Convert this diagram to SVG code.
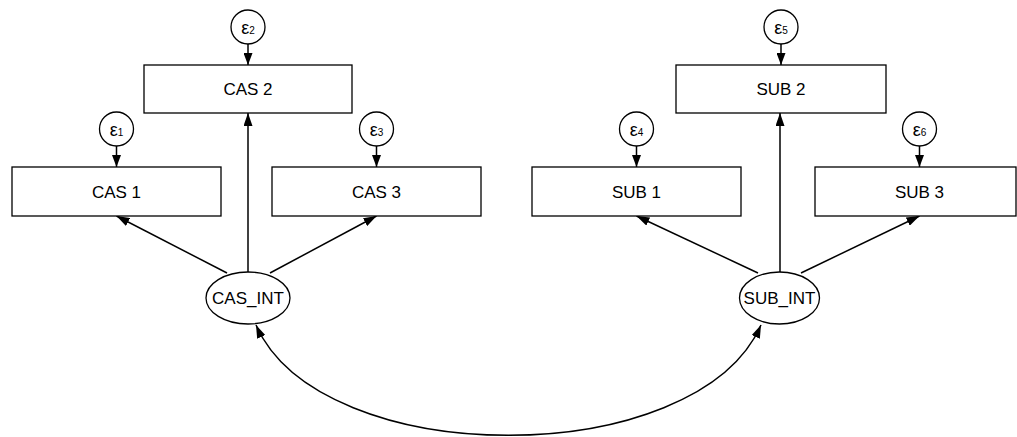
<svg xmlns="http://www.w3.org/2000/svg" width="1017" height="437" viewBox="0 0 1017 437">
  <style>
    .box { fill: #fff; stroke: #000; stroke-width: 1.3; }
    .lat { fill: #fff; stroke: #000; stroke-width: 1.3; }
    .err { fill: #fff; stroke: #000; stroke-width: 1.3; }
    .lbl { font-family: "Liberation Sans", Arial, sans-serif; font-size: 17px; fill: #000; text-anchor: middle; }
    .eps { font-family: "Liberation Sans", Arial, sans-serif; font-size: 18px; fill: #000; text-anchor: middle; }
    .sub { font-size: 10px; }
    .path { fill: none; stroke: #000; stroke-width: 1.5; }
  </style>
  <defs>
    <marker id="arr" viewBox="0 0 13 9" refX="13" refY="4.5" markerWidth="13" markerHeight="9" markerUnits="userSpaceOnUse" orient="auto-start-reverse">
      <path d="M0,0 L13,4.5 L0,9 z" fill="#000"/>
    </marker>
    <marker id="arrs" viewBox="0 0 12 9" refX="12" refY="4.5" markerWidth="12" markerHeight="9" markerUnits="userSpaceOnUse" orient="auto">
      <path d="M0,0 L12,4.5 L0,9 z" fill="#000"/>
    </marker>
  </defs>

  <!-- paths: loadings, error terms, covariance -->
  <g id="connectors">
    <line class="path" x1="227" y1="273" x2="116.5" y2="216" marker-end="url(#arr)"/>
    <line class="path" x1="248" y1="272" x2="248" y2="113" marker-end="url(#arr)"/>
    <line class="path" x1="270" y1="273" x2="376.5" y2="216" marker-end="url(#arr)"/>
    <line class="path" x1="758" y1="273" x2="636.5" y2="216" marker-end="url(#arr)"/>
    <line class="path" x1="780" y1="272" x2="780" y2="113" marker-end="url(#arr)"/>
    <line class="path" x1="801" y1="273" x2="919.5" y2="216" marker-end="url(#arr)"/>

    <line class="path" x1="116.5" y1="146" x2="116.5" y2="167" marker-end="url(#arrs)"/>
    <line class="path" x1="248" y1="44" x2="248" y2="65" marker-end="url(#arrs)"/>
    <line class="path" x1="376.5" y1="146" x2="376.5" y2="167" marker-end="url(#arrs)"/>
    <line class="path" x1="636.5" y1="146" x2="636.5" y2="167" marker-end="url(#arrs)"/>
    <line class="path" x1="781" y1="44" x2="781" y2="65" marker-end="url(#arrs)"/>
    <line class="path" x1="919.5" y1="146" x2="919.5" y2="167" marker-end="url(#arrs)"/>

    <path class="path" d="M256,325 C321,472 696,472 761,325" marker-start="url(#arr)" marker-end="url(#arr)"/>
  </g>

  <!-- observed indicators -->
  <g id="cas1"><rect class="box" x="12" y="167" width="209" height="49"/><text class="lbl" x="116.5" y="198">CAS 1</text></g>
  <g id="cas2"><rect class="box" x="144" y="65" width="208" height="48"/><text class="lbl" x="248" y="95">CAS 2</text></g>
  <g id="cas3"><rect class="box" x="272" y="167" width="209" height="49"/><text class="lbl" x="376.5" y="198">CAS 3</text></g>
  <g id="sub1"><rect class="box" x="532" y="167" width="209" height="49"/><text class="lbl" x="636.5" y="198">SUB 1</text></g>
  <g id="sub2"><rect class="box" x="676" y="65" width="210" height="48"/><text class="lbl" x="781" y="95">SUB 2</text></g>
  <g id="sub3"><rect class="box" x="815" y="167" width="201" height="49"/><text class="lbl" x="919.5" y="198">SUB 3</text></g>

  <!-- latent factors -->
  <g id="cas_int"><ellipse class="lat" cx="248" cy="298" rx="42" ry="26"/><text class="lbl" x="248" y="304">CAS_INT</text></g>
  <g id="sub_int"><ellipse class="lat" cx="779.5" cy="298" rx="40" ry="26"/><text class="lbl" x="779.5" y="304">SUB_INT</text></g>

  <!-- error terms -->
  <g id="e1"><circle class="err" cx="116.5" cy="129" r="17"/><text class="eps" x="116.5" y="136">ε<tspan class="sub">1</tspan></text></g>
  <g id="e2"><circle class="err" cx="248" cy="27" r="17"/><text class="eps" x="248" y="34">ε<tspan class="sub">2</tspan></text></g>
  <g id="e3"><circle class="err" cx="376.5" cy="129" r="17"/><text class="eps" x="376.5" y="136">ε<tspan class="sub">3</tspan></text></g>
  <g id="e4"><circle class="err" cx="636.5" cy="129" r="17"/><text class="eps" x="636.5" y="136">ε<tspan class="sub">4</tspan></text></g>
  <g id="e5"><circle class="err" cx="781" cy="27" r="17"/><text class="eps" x="781" y="34">ε<tspan class="sub">5</tspan></text></g>
  <g id="e6"><circle class="err" cx="919.5" cy="129" r="17"/><text class="eps" x="919.5" y="136">ε<tspan class="sub">6</tspan></text></g>
</svg>
